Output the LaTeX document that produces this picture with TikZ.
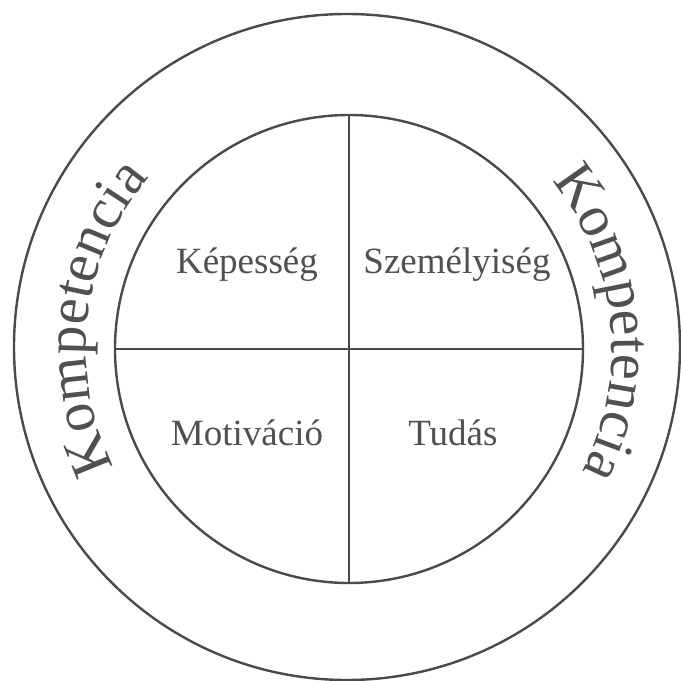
\documentclass[tikz,border=0pt]{standalone}
\usepackage{fontspec}
\setmainfont{Liberation Serif}
\usetikzlibrary{decorations.text}
\definecolor{ink}{HTML}{4A4A4A}
\definecolor{txt}{HTML}{505050}
\newcommand{\kompfont}{\fontsize{58}{58}\selectfont}
\tikzset{
  ring/.style={circle, draw=ink, line width=2.4pt, inner sep=0pt, outer sep=0pt},
  divider/.style={draw=ink, line width=2.2pt},
  quad/.style={text=txt, font=\fontsize{37}{37}\selectfont, anchor=base, inner sep=0pt},
}
\begin{document}
\begin{tikzpicture}[x=1pt,y=1pt]
\useasboundingbox (-349,-332) rectangle (332,349);
\fill[white] (-349,-332) rectangle (332,349);
\node[ring, minimum size=666pt] (outer) at (-2,2) {};
\node[ring, minimum size=468pt] (inner) at (0,0) {};
\draw[divider] (inner.west) -- (inner.east);
\draw[divider] (inner.north) -- (inner.south);
\node[quad] (kep) at (-102,76) {Képesség};
\node[quad] (szem) at (108,76) {Személyiség};
\node[quad] (mot) at (-102,-96) {Motiváció};
\node[quad] (tud) at (104,-96) {Tudás};
\path[decorate, decoration={text along path, text align=center, text color=txt,
  text={|\kompfont|Kompetencia}}]
  (213:263pt) arc[start angle=213, end angle=133, radius=263pt];
\path[decorate, decoration={text along path, text align=center, text color=txt,
  text={|\kompfont|Kompetencia}}]
  (46:263pt) arc[start angle=46, end angle=-34, radius=263pt];
\end{tikzpicture}
\end{document}
